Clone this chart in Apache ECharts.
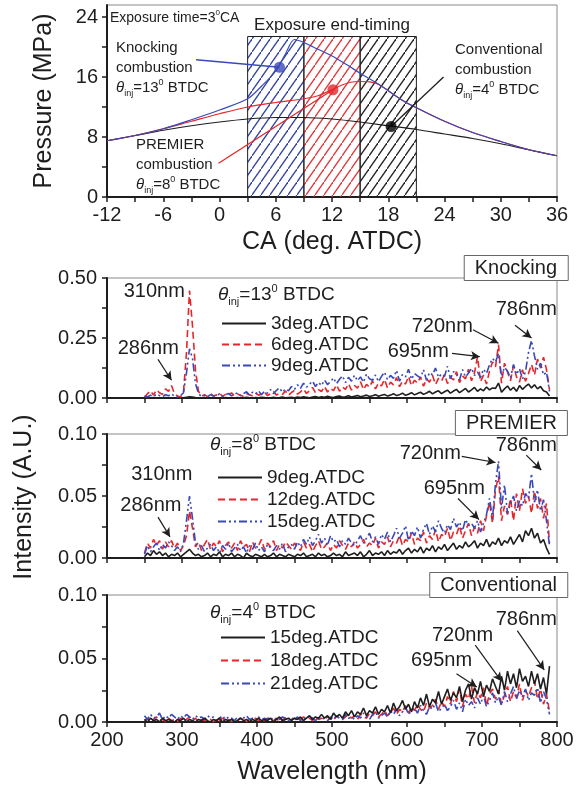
<!DOCTYPE html>
<html>
<head>
<meta charset="utf-8">
<script src="https://cdn.jsdelivr.net/npm/echarts@6/dist/echarts.min.js"></script>
<style>
  html, body { margin: 0; padding: 0; background: #fff; }
  #chart { width: 581px; height: 789px; }
</style>
</head>
<body>
<div id="chart"></div>
<script>
const FONT = '"Liberation Sans", Arial, Helvetica, sans-serif';
const INK = '#1e1e1e';
const RED = '#e5262a';
const BLUE = '#3a49b8';
const FRAME = '#8a8a8a';

// ---- In-cylinder pressure vs crank angle ----
const caConv = [-12, -9, -6, -3, 0, 3, 6, 9, 12, 15, 18, 21, 24, 27, 30, 33, 36];
const pConv = [7.5, 8.2, 8.9, 9.5, 10.0, 10.4, 10.6, 10.6, 10.4, 10.0, 9.5, 9.0, 8.4, 7.8, 7.1, 6.3, 5.5];
const caPremier = [-12, -9, -6, -3, 0, 3, 6, 9, 10.5, 12, 13, 14, 15, 16, 17, 19.5, 21, 24, 27, 30, 33, 36];
const pPremier = [7.5, 8.2, 9.1, 10.1, 11.1, 12.0, 12.6, 13.1, 13.5, 14.3, 14.9, 15.3, 15.4, 15.35, 15.0, 12.9, 11.9, 10.1, 8.6, 7.4, 6.3, 5.5];
const caKnock = [-12, -9, -6, -3, 0, 3, 4.5, 6, 7, 8, 9, 10, 12, 13.5, 15, 17, 19.5, 21, 24, 27, 30, 33, 36];
const pKnock = [7.5, 8.2, 9.1, 10.3, 11.6, 13.1, 14.8, 16.8, 19.0, 21.0, 20.6, 20.0, 18.8, 17.7, 16.5, 15.0, 12.9, 11.9, 10.1, 8.6, 7.4, 6.3, 5.5];

// exposure windows (end-timing groups) and their common height
const exposureWindows = [[3, 9], [9, 15], [15, 21]];
const exposureTop = 21.4;
// markers: [CA, MPa]
const knockMark = [6.4, 17.3];
const premierMark = [12.1, 14.3];
const convMark = [18.3, 9.4];

const caLabels = [-12, -6, 0, 6, 12, 18, 24, 30, 36];
const caTicks = 3;
const pLabels = [0, 8, 16, 24];
const pTicks = [0, 4, 8, 12, 16, 20, 24];

// ---- Emission spectra, sampled every 4 nm from 250 nm, values in 1e-3 A.U. ----
const WL_START = 250, WL_STEP = 4;
const wlLabels = [200, 300, 400, 500, 600, 700, 800];
const knockLabels = [0, 0.25, 0.5];
const lowLabels = [0, 0.05, 0.1];

// Knocking, theta_inj = 13 deg BTDC
const knock3 = [
  0, 1, 0, 2, 1, 0, 1, 2, 0, 1,
  1, 0, 2, 1, 3, 5, 4, 2, 1, 0,
  1, 0, 1, 2, 0, 1, 0, 2, 1, 0,
  1, 2, 0, 1, 3, 1, 0, 2, 1, 3,
  2, 0, 1, 3, 1, 2, 4, 1, 2, 3,
  1, 4, 2, 5, 3, 1, 4, 6, 2, 5,
  3, 7, 4, 2, 6, 8, 3, 5, 9, 4,
  7, 10, 5, 8, 12, 6, 9, 14, 7, 11,
  15, 8, 12, 18, 10, 14, 20, 11, 16, 22,
  13, 19, 24, 15, 21, 28, 17, 25, 30, 18,
  26, 33, 20, 29, 36, 22, 31, 40, 25, 34,
  44, 28, 38, 30, 46, 34, 42, 40, 62, 24,
  38, 50, 32, 45, 28, 52, 36, 48, 58, 42,
  55, 38, 48, 30, 25, 8
];
const knock6 = [
  3, 18, 30, 12, 34, 22, 15, 38, 28, 52,
  18, 8, 4, 26, 190, 448, 300, 115, 28, 8,
  14, 6, 18, 9, 12, 20, 7, 15, 10, 22,
  8, 17, 11, 6, 19, 13, 9, 21, 12, 16,
  24, 10, 18, 27, 12, 20, 15, 29, 11, 23,
  32, 16, 26, 38, 19, 30, 44, 22, 35, 27,
  48, 25, 40, 31, 55, 28, 46, 36, 60, 33,
  52, 41, 68, 35, 57, 45, 72, 38, 62, 50,
  78, 42, 66, 55, 85, 47, 70, 58, 90, 51,
  74, 62, 88, 49, 79, 66, 95, 56, 82, 70,
  98, 60, 86, 75, 110, 64, 92, 80, 120, 72,
  105, 172, 68, 95, 58, 112, 150, 130, 222, 62,
  145, 108, 72, 135, 88, 66, 118, 70, 102, 140,
  96, 162, 125, 170, 118, 35
];
const knock9 = [
  8, 4, 12, 6, 16, 10, 5, 14, 9, 18,
  7, 4, 10, 22, 105, 205, 165, 60, 18, 6,
  10, 5, 14, 8, 11, 17, 6, 13, 19, 9,
  15, 22, 10, 18, 26, 12, 24, 16, 30, 14,
  28, 20, 35, 18, 32, 42, 24, 38, 30, 48,
  36, 55, 40, 62, 45, 58, 70, 48, 65, 52,
  75, 56, 68, 84, 60, 78, 92, 64, 86, 70,
  95, 72, 88, 66, 100, 80, 74, 96, 68, 90,
  108, 76, 94, 82, 115, 70, 98, 88, 120, 78,
  102, 92, 84, 118, 74, 106, 96, 125, 86, 100,
  90, 132, 80, 110, 98, 76, 118, 88, 104, 124,
  94, 108, 86, 120, 102, 138, 165, 150, 185, 90,
  128, 112, 84, 140, 98, 122, 78, 110, 190, 240,
  175, 120, 145, 96, 108, 28
];

// PREMIER, theta_inj = 8 deg BTDC
const premier9 = [
  1, 4, 2, 6, 3, 5, 2, 4, 1, 3,
  2, 4, 1, 3, 5, 7, 4, 2, 3, 1,
  2, 4, 1, 3, 2, 5, 1, 3, 2, 4,
  1, 3, 2, 0, 4, 2, 1, 3, 2, 1,
  3, 1, 2, 4, 1, 3, 2, 1, 3, 2,
  1, 3, 2, 4, 1, 2, 3, 1, 4, 2,
  3, 1, 2, 4, 2, 3, 1, 5, 2, 3,
  4, 2, 5, 1, 3, 6, 2, 4, 3, 5,
  2, 6, 3, 5, 4, 7, 3, 6, 8, 4,
  7, 5, 9, 4, 8, 6, 10, 5, 9, 7,
  11, 6, 9, 12, 7, 10, 8, 13, 9, 11,
  14, 8, 12, 10, 15, 9, 13, 11, 16, 10,
  14, 12, 17, 11, 15, 19, 13, 22, 18, 24,
  16, 20, 12, 15, 8, 3
];
const premier12 = [
  4, 12, 8, 15, 10, 14, 7, 13, 9, 14,
  8, 12, 6, 10, 18, 38, 24, 9, 13, 6,
  11, 15, 7, 12, 9, 14, 5, 10, 13, 8,
  12, 6, 14, 9, 11, 5, 13, 8, 10, 15,
  7, 12, 9, 14, 6, 11, 8, 13, 10, 7,
  12, 9, 6, 13, 8, 11, 5, 10, 14, 7,
  9, 12, 6, 11, 8, 14, 10, 7, 12, 9,
  13, 8, 11, 15, 9, 12, 10, 16, 8, 13,
  11, 17, 9, 14, 12, 18, 10, 15, 13, 20,
  11, 16, 14, 21, 12, 18, 15, 23, 13, 19,
  17, 24, 14, 21, 19, 26, 16, 22, 28, 18,
  25, 20, 30, 22, 34, 45, 28, 55, 66, 30,
  42, 35, 48, 30, 52, 38, 56, 44, 50, 36,
  54, 40, 48, 32, 44, 12
];
const premier15 = [
  3, 10, 5, 9, 12, 6, 11, 8, 13, 10,
  6, 9, 5, 12, 30, 50, 32, 12, 7, 10,
  5, 8, 11, 6, 9, 4, 10, 7, 12, 5,
  8, 11, 6, 9, 4, 10, 7, 12, 6, 9,
  5, 11, 8, 6, 10, 7, 12, 5, 9, 11,
  7, 13, 9, 15, 11, 17, 10, 14, 19, 12,
  16, 10, 18, 13, 15, 9, 14, 11, 16, 12,
  10, 14, 18, 12, 16, 20, 13, 17, 11, 19,
  15, 21, 13, 18, 24, 16, 20, 26, 14, 22,
  18, 25, 16, 23, 28, 19, 26, 21, 30, 24,
  20, 27, 23, 32, 25, 29, 22, 31, 26, 28,
  24, 30, 21, 28, 35, 48, 32, 60, 78, 40,
  59, 36, 44, 50, 38, 46, 42, 52, 48, 68,
  45, 55, 38, 47, 30, 10
];

// Conventional, theta_inj = 4 deg BTDC
const conv15 = [
  2, 0, 3, 1, 2, 0, 3, 1, 2, 1,
  0, 2, 1, 3, 0, 2, 1, 0, 2, 1,
  3, 1, 0, 2, 1, 3, 0, 2, 1, 2,
  0, 1, 3, 1, 2, 0, 2, 1, 3, 1,
  2, 1, 3, 0, 2, 4, 1, 2, 3, 1,
  3, 2, 4, 1, 3, 5, 2, 4, 3, 6,
  3, 5, 2, 7, 4, 6, 3, 8, 5, 9,
  4, 8, 6, 11, 5, 9, 7, 12, 6, 10,
  8, 13, 7, 15, 9, 12, 17, 10, 14, 8,
  16, 11, 19, 13, 22, 12, 18, 15, 24, 14,
  20, 26, 17, 23, 19, 28, 16, 25, 30, 18,
  27, 22, 32, 20, 29, 24, 34, 28, 22, 36,
  25, 40, 30, 38, 27, 42, 32, 36, 28, 40,
  30, 38, 26, 35, 22, 44
];
const conv18 = [
  1, 3, 0, 2, 4, 1, 2, 0, 3, 1,
  2, 0, 3, 1, 2, 4, 1, 3, 0, 2,
  1, 3, 2, 0, 2, 1, 3, 1, 2, 0,
  2, 1, 3, 2, 0, 2, 1, 3, 1, 2,
  1, 3, 2, 1, 3, 0, 2, 3, 1, 2,
  3, 1, 2, 4, 2, 3, 1, 4, 2, 3,
  2, 4, 3, 1, 5, 3, 2, 4, 6, 3,
  5, 2, 6, 4, 3, 7, 5, 8, 4, 6,
  9, 5, 7, 11, 6, 10, 8, 13, 7, 12,
  9, 14, 10, 8, 15, 11, 13, 18, 10, 16,
  12, 20, 14, 24, 16, 26, 12, 22, 18, 28,
  15, 24, 19, 27, 13, 22, 26, 18, 25, 14,
  21, 28, 16, 24, 19, 30, 17, 25, 20, 27,
  32, 18, 26, 14, 22, 8
];
const conv21 = [
  5, 2, 6, 3, 4, 7, 2, 5, 3, 6,
  4, 2, 5, 3, 6, 4, 2, 5, 3, 4,
  2, 5, 3, 4, 1, 3, 5, 2, 4, 3,
  1, 4, 2, 3, 5, 2, 3, 1, 4, 2,
  3, 2, 4, 1, 3, 2, 4, 3, 1, 3,
  2, 4, 1, 3, 2, 5, 3, 1, 4, 2,
  3, 1, 4, 2, 5, 3, 2, 6, 3, 4,
  2, 5, 3, 7, 4, 2, 6, 8, 3, 5,
  7, 4, 9, 6, 10, 5, 8, 12, 6, 9,
  11, 7, 13, 9, 6, 12, 10, 15, 8, 11,
  14, 9, 12, 17, 10, 15, 8, 18, 13, 16,
  11, 19, 14, 21, 12, 17, 23, 15, 20, 13,
  24, 16, 22, 28, 18, 25, 20, 26, 17, 23,
  21, 27, 15, 24, 18, 6
];

// Peak annotations: text centre, arrow start and arrow tip in [nm, A.U.]
const knockNotes = [
  { text: '310nm', at: [263, 0.444] },
  { text: '286nm', at: [255, 0.207], from: [268, 0.161], to: [286, 0.074] },
  { text: '695nm', at: [615, 0.193], from: [660, 0.186], to: [697, 0.172] },
  { text: '720nm', at: [647, 0.297], from: [688, 0.284], to: [722, 0.228] },
  { text: '786nm', at: [759, 0.367], from: [744, 0.303], to: [766, 0.25] }
];
const premierNotes = [
  { text: '310nm', at: [273, 0.067] },
  { text: '286nm', at: [258.5, 0.042], from: [268, 0.033], to: [284, 0.017] },
  { text: '695nm', at: [663, 0.056], from: [668, 0.048], to: [696, 0.031] },
  { text: '720nm', at: [631, 0.0844], from: [673, 0.082], to: [718, 0.077] },
  { text: '786nm', at: [759, 0.091], from: [759, 0.083], to: [779, 0.071] }
];
const convNotes = [
  { text: '695nm', at: [646, 0.0487], from: [666, 0.038], to: [693, 0.0276] },
  { text: '720nm', at: [674, 0.068], from: [691, 0.0606], to: [726, 0.032] },
  { text: '786nm', at: [759, 0.081], from: [747, 0.072], to: [783, 0.041] }
];

// ---------------------------------------------------------------
const zip = (xs, ys) => xs.map((x, i) => [x, ys[i]]);
const spectrum = vals => vals.map((v, i) => [WL_START + i * WL_STEP, v / 1000]);

function hatch(color) {
  const w = 9, h = 13;
  const c = document.createElement('canvas');
  c.width = w; c.height = h;
  const g = c.getContext('2d');
  g.strokeStyle = color;
  g.lineWidth = 1.3;
  g.beginPath();
  g.moveTo(-w, 2 * h);
  g.lineTo(2 * w, -h);
  g.stroke();
  return { image: c, repeat: 'repeat' };
}

const axisLine = { onZero: false, lineStyle: { color: INK, width: 2 } };
const axisTick = { inside: false, length: 5, lineStyle: { color: INK, width: 1.5 } };

function wlAxis(idx, withLabels) {
  return {
    gridIndex: idx, type: 'value', min: 200, max: 800, interval: 50,
    axisLine, axisTick,
    axisLabel: withLabels
      ? { customValues: wlLabels, fontSize: 20, color: INK, margin: 8, fontFamily: FONT }
      : { show: false },
    splitLine: { show: false },
    name: withLabels ? 'Wavelength (nm)' : '',
    nameLocation: 'middle', nameGap: 38,
    nameTextStyle: { fontSize: 25, color: INK, fontFamily: FONT }
  };
}
function intensityAxis(idx, max, step, labels) {
  return {
    gridIndex: idx, type: 'value', min: 0, max, interval: step,
    axisLine, axisTick,
    axisLabel: { customValues: labels, fontSize: 20, color: INK, margin: 10, fontFamily: FONT,
                 formatter: v => v.toFixed(2) },
    splitLine: { show: false }
  };
}

const RED_DASH = [7, 4];
const BLUE_DASH = [8, 3, 2, 3, 2, 3];

function spec(name, vals, color, dash, idx, z, notes) {
  const s = {
    type: 'line', name, xAxisIndex: idx, yAxisIndex: idx,
    data: spectrum(vals), symbol: 'none', showSymbol: false,
    lineStyle: { color, width: 1.6, type: dash }, itemStyle: { color },
    z, silent: true
  };
  if (notes) {
    s.markLine = {
      silent: true, symbol: ['none', 'arrow'], symbolSize: [7, 9],
      label: { show: false },
      lineStyle: { color: INK, width: 1.2, type: 'solid' },
      data: notes.filter(n => n.from).map(n => [{ coord: n.from }, { coord: n.to }])
    };
  }
  return s;
}

const gridBase = { left: 107, right: 24, show: true, borderColor: FRAME, borderWidth: 1 };
const legendBase = {
  orient: 'vertical', itemWidth: 44, itemHeight: 12, selectedMode: false,
  itemStyle: { opacity: 0, color: 'transparent', borderWidth: 0 },
  textStyle: { fontSize: 19, color: INK, fontFamily: FONT }
};

const option = {
  animation: false,
  backgroundColor: '#fff',
  textStyle: { fontFamily: FONT, color: INK },
  title: [
    { text: 'Knocking', right: 13, top: 255 },
    { text: 'PREMIER', right: 13, top: 410 },
    { text: 'Conventional', right: 13, top: 572 }
  ].map(t => Object.assign(t, {
    padding: [3, 11, 3, 11], borderColor: '#666', borderWidth: 1, backgroundColor: '#fff',
    textStyle: { fontSize: 20, fontWeight: 'normal', color: INK, fontFamily: FONT }
  })),
  grid: [
    Object.assign({ top: 5, height: 192 }, gridBase),
    Object.assign({ top: 278, height: 120 }, gridBase),
    Object.assign({ top: 434, height: 124 }, gridBase),
    Object.assign({ top: 595, height: 127 }, gridBase)
  ],
  legend: [
    Object.assign({ data: ['3deg.ATDC', '6deg.ATDC', '9deg.ATDC'], left: 216, top: 309, itemGap: 2 }, legendBase),
    Object.assign({ data: ['9deg.ATDC\u200b', '12deg.ATDC', '15deg.ATDC'], left: 212, top: 463, itemGap: 3 }, legendBase),
    Object.assign({ data: ['15deg.ATDC\u200b', '18deg.ATDC', '21deg.ATDC'], left: 215, top: 623, itemGap: 4 }, legendBase)
  ],
  xAxis: [
    {
      gridIndex: 0, type: 'value', min: -12, max: 36, interval: caTicks,
      axisLine, axisTick,
      axisLabel: { customValues: caLabels, fontSize: 20, color: INK, margin: 8, fontFamily: FONT },
      splitLine: { show: false },
      name: 'CA (deg. ATDC)', nameLocation: 'middle', nameGap: 33,
      nameTextStyle: { fontSize: 25, color: INK, fontFamily: FONT }
    },
    wlAxis(1, false), wlAxis(2, false), wlAxis(3, true)
  ],
  yAxis: [
    {
      gridIndex: 0, type: 'value', min: 0, max: 25.6, interval: 4,
      axisLine,
      axisTick: Object.assign({ customValues: pTicks }, axisTick),
      axisLabel: { customValues: pLabels, fontSize: 20, color: INK, margin: 9, fontFamily: FONT },
      splitLine: { show: false },
      name: 'Pressure (MPa)', nameLocation: 'middle', nameGap: 50,
      nameTextStyle: { fontSize: 25, color: INK, fontFamily: FONT }
    },
    intensityAxis(1, 0.5, 0.125, knockLabels),
    intensityAxis(2, 0.1, 0.025, lowLabels),
    intensityAxis(3, 0.1, 0.025, lowLabels)
  ],
  series: [
    // hatched exposure windows
    {
      type: 'line', xAxisIndex: 0, yAxisIndex: 0, data: [], z: 1, silent: true,
      markArea: {
        silent: true,
        itemStyle: { borderColor: INK, borderWidth: 1 },
        data: exposureWindows.map((w, i) => [
          { xAxis: w[0], yAxis: 0, itemStyle: { color: hatch(['#33449e', '#e0383a', '#222222'][i]), borderColor: INK, borderWidth: 1 } },
          { xAxis: w[1], yAxis: exposureTop }
        ])
      }
    },
    { type: 'line', xAxisIndex: 0, yAxisIndex: 0, data: zip(caConv, pConv), smooth: 0.3,
      symbol: 'none', lineStyle: { color: INK, width: 1.2 }, z: 3, silent: true },
    { type: 'line', xAxisIndex: 0, yAxisIndex: 0, data: zip(caPremier, pPremier), smooth: 0.3,
      symbol: 'none', lineStyle: { color: RED, width: 1.2 }, z: 3, silent: true },
    { type: 'line', xAxisIndex: 0, yAxisIndex: 0, data: zip(caKnock, pKnock), smooth: 0.3,
      symbol: 'none', lineStyle: { color: BLUE, width: 1.2 }, z: 3, silent: true },
    {
      type: 'scatter', xAxisIndex: 0, yAxisIndex: 0, symbolSize: 11, z: 5, silent: true,
      data: [
        { value: knockMark, itemStyle: { color: BLUE } },
        { value: premierMark, itemStyle: { color: RED } },
        { value: convMark, itemStyle: { color: '#000' } }
      ],
      markLine: {
        silent: true, symbol: 'none', label: { show: false },
        lineStyle: { width: 1.3, type: 'solid' },
        data: [
          [{ coord: [-2.5, 18.3], lineStyle: { color: BLUE } }, { coord: knockMark }],
          [{ coord: [-0.1, 4.5], lineStyle: { color: RED } }, { coord: premierMark }],
          [{ coord: [23.9, 16.0], lineStyle: { color: INK } }, { coord: convMark }]
        ]
      }
    },

    // Knocking spectra
    spec('3deg.ATDC', knock3, INK, 'solid', 1, 3, knockNotes),
    spec('6deg.ATDC', knock6, RED, RED_DASH, 1, 4),
    spec('9deg.ATDC', knock9, BLUE, BLUE_DASH, 1, 5),
    // PREMIER spectra
    spec('9deg.ATDC\u200b', premier9, INK, 'solid', 2, 3, premierNotes),
    spec('12deg.ATDC', premier12, RED, RED_DASH, 2, 4),
    spec('15deg.ATDC', premier15, BLUE, BLUE_DASH, 2, 5),
    // Conventional spectra
    spec('18deg.ATDC', conv18, RED, RED_DASH, 3, 3, convNotes),
    spec('21deg.ATDC', conv21, BLUE, BLUE_DASH, 3, 4),
    spec('15deg.ATDC\u200b', conv15, INK, 'solid', 3, 5)
  ]
};

const chart = echarts.init(document.getElementById('chart'), null, { renderer: 'canvas' });
chart.setOption(option);

// ---- free text ----
const richFor = size => ({
  t: { fontSize: size, fontStyle: 'italic', fontFamily: FONT, fill: INK, lineHeight: size + 5 },
  s: { fontSize: Math.round(size * 0.6), fontFamily: FONT, fill: INK, verticalAlign: 'bottom', lineHeight: Math.round(size * 0.6) },
  p: { fontSize: Math.round(size * 0.6), fontFamily: FONT, fill: INK, verticalAlign: 'top', lineHeight: Math.round(size * 0.6) }
});
function txt(x, y, text, size, opts) {
  return {
    type: 'text', x, y, z: 100, silent: true,
    style: Object.assign({
      text, fill: INK, fontSize: size, fontFamily: FONT,
      lineHeight: size + 5, rich: richFor(size), align: 'left', verticalAlign: 'top'
    }, opts || {})
  };
}

const graphics = [];
// top panel notes
graphics.push(txt(110, 18, 'Exposure time=3{p|0}CA', 14, { verticalAlign: 'middle' }));
graphics.push(txt(332, 25, 'Exposure end-timing', 17, { align: 'center', verticalAlign: 'middle' }));
graphics.push(txt(116, 38, 'Knocking\ncombustion\n{t|θ}{s|inj}=13{p|0} BTDC', 15));
graphics.push(txt(136, 135, 'PREMIER\ncombustion\n{t|θ}{s|inj}=8{p|0} BTDC', 15));
graphics.push(txt(455, 40, 'Conventional\ncombustion\n{t|θ}{s|inj}=4{p|0} BTDC', 15));

// legend headings
graphics.push(txt(218, 295, '{t|θ}{s|inj}=13{p|0} BTDC', 19, { verticalAlign: 'middle', lineHeight: 24 }));
graphics.push(txt(210, 445, '{t|θ}{s|inj}=8{p|0} BTDC', 19, { verticalAlign: 'middle', lineHeight: 24 }));
graphics.push(txt(210, 613, '{t|θ}{s|inj}=4{p|0} BTDC', 19, { verticalAlign: 'middle', lineHeight: 24 }));

// peak labels
[[1, knockNotes], [2, premierNotes], [3, convNotes]].forEach(([g, notes]) => {
  notes.forEach(n => {
    const p = chart.convertToPixel({ gridIndex: g }, n.at);
    graphics.push(txt(p[0], p[1], n.text, 20, { align: 'center', verticalAlign: 'middle' }));
  });
});

// shared intensity axis title
graphics.push({
  type: 'text', x: 24, y: 497, rotation: Math.PI / 2, z: 100, silent: true,
  style: { text: 'Intensity (A.U.)', fill: INK, fontSize: 25, fontFamily: FONT, align: 'center', verticalAlign: 'middle' }
});

chart.setOption({ graphic: graphics });
</script>
</body>
</html>
